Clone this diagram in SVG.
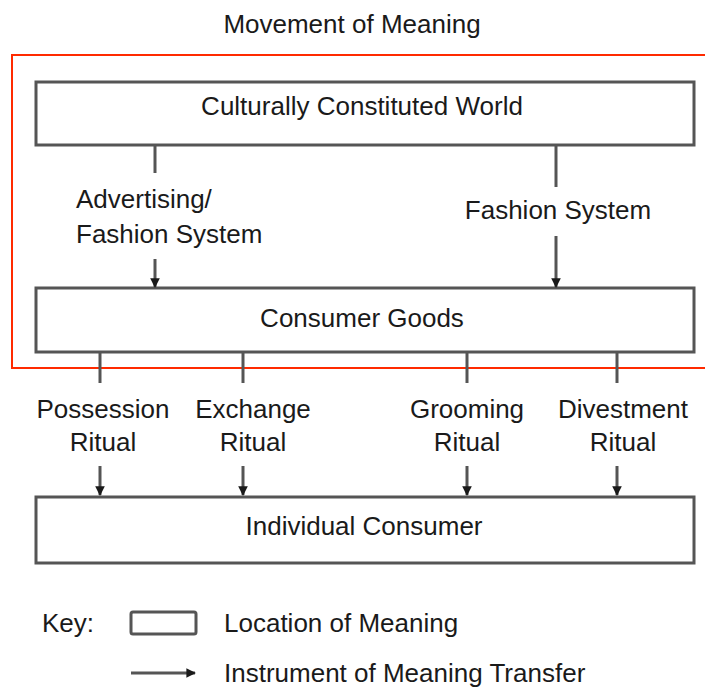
<svg xmlns="http://www.w3.org/2000/svg" width="705" height="687" viewBox="0 0 705 687">
  <defs>
    <style>
      .t { font-family: "Liberation Sans", Arial, sans-serif; font-size: 26px; fill: #1a1a1a; }
      .c { text-anchor: middle; }
      .box { fill: #ffffff; stroke: #555555; stroke-width: 3; }
      .wire { fill: none; stroke: #555555; stroke-width: 3; }
      .arrow { fill: none; stroke: #555555; stroke-width: 3; marker-end: url(#head); }
    </style>
    <marker id="head" viewBox="0 0 10 10" refX="9" refY="5" markerWidth="3.2" markerHeight="3.2" markerUnits="strokeWidth" orient="auto">
      <path d="M0,0 L10,5 L0,10 Z" fill="#1a1a1a"/>
    </marker>
  </defs>
  <rect width="705" height="687" fill="#ffffff"/>

  <text class="t c" x="352" y="33">Movement of Meaning</text>

  <!-- highlighted region around the upper part -->
  <rect x="12" y="55" width="700" height="313" fill="none" stroke="#ff2a00" stroke-width="2"/>

  <g id="culturally-constituted-world">
    <rect class="box" x="36" y="82" width="658" height="63"/>
    <text class="t c" x="362" y="115">Culturally Constituted World</text>
  </g>

  <g id="consumer-goods">
    <rect class="box" x="36" y="288" width="658" height="64"/>
    <text class="t c" x="362" y="327">Consumer Goods</text>
  </g>

  <g id="individual-consumer">
    <rect class="box" x="36" y="497" width="658" height="66"/>
    <text class="t c" x="364" y="535">Individual Consumer</text>
  </g>

  <g id="connectors">
    <!-- world to goods -->
    <line class="wire" x1="155" y1="146" x2="155" y2="173"/>
    <line class="arrow" x1="155" y1="259" x2="155" y2="287"/>
    <line class="wire" x1="556" y1="146" x2="556" y2="187"/>
    <line class="arrow" x1="556" y1="236" x2="556" y2="287"/>
    <!-- goods to consumer -->
    <line class="wire" x1="100" y1="353" x2="100" y2="383"/>
    <line class="arrow" x1="100" y1="466" x2="100" y2="495"/>
    <line class="wire" x1="243" y1="353" x2="243" y2="383"/>
    <line class="arrow" x1="243" y1="466" x2="243" y2="495"/>
    <line class="wire" x1="467" y1="353" x2="467" y2="383"/>
    <line class="arrow" x1="467" y1="466" x2="467" y2="495"/>
    <line class="wire" x1="617" y1="353" x2="617" y2="383"/>
    <line class="arrow" x1="617" y1="466" x2="617" y2="495"/>
  </g>

  <g id="connector-labels">
    <text class="t" x="76" y="208">Advertising/</text>
    <text class="t" x="76" y="243">Fashion System</text>
    <text class="t c" x="558" y="219">Fashion System</text>
    <text class="t c" x="103" y="418">Possession</text>
    <text class="t c" x="103" y="451">Ritual</text>
    <text class="t c" x="253" y="418">Exchange</text>
    <text class="t c" x="253" y="451">Ritual</text>
    <text class="t c" x="467" y="418">Grooming</text>
    <text class="t c" x="467" y="451">Ritual</text>
    <text class="t c" x="623" y="418">Divestment</text>
    <text class="t c" x="623" y="451">Ritual</text>
  </g>

  <g id="key">
    <text class="t" x="42" y="632">Key:</text>
    <rect x="131" y="612" width="65" height="22" rx="2" fill="#ffffff" stroke="#555555" stroke-width="3"/>
    <text class="t" x="224" y="632">Location of Meaning</text>
    <line class="arrow" x1="131" y1="673" x2="195" y2="673"/>
    <text class="t" x="224" y="682">Instrument of Meaning Transfer</text>
  </g>
</svg>
